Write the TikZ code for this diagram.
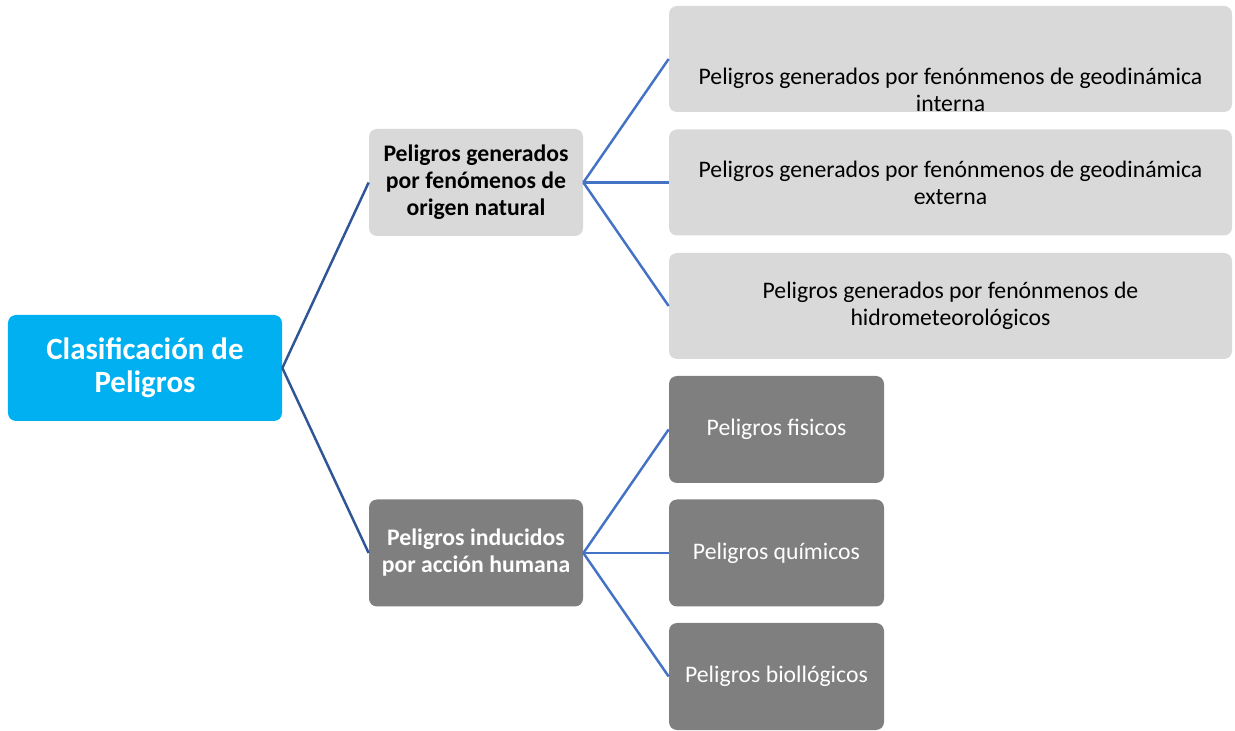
\documentclass[tikz,border=0pt]{standalone}
\usepackage{fontspec}
\setmainfont{Carlito}
\definecolor{rootcyan}{HTML}{00B0F0}
\definecolor{lightbox}{HTML}{D9D9D9}
\definecolor{darkbox}{HTML}{7F7F7F}
\definecolor{linkblue}{HTML}{4472C4}
\definecolor{rootlink}{HTML}{2F5597}
\begin{document}
\begin{tikzpicture}[
    box/.style={rectangle,rounded corners=0.16cm,align=center,inner sep=0pt},
    rootbox/.style={box,fill=rootcyan,text=white,font=\fontsize{17.6}{19}\selectfont\bfseries,
      minimum width=5.48cm,minimum height=2.12cm},
    midlight/.style={box,fill=lightbox,text=black,font=\fontsize{13.5}{15.4}\selectfont\bfseries,
      minimum width=4.28cm,minimum height=2.14cm},
    middark/.style={box,fill=darkbox,text=white,font=\fontsize{13.5}{15.4}\selectfont\bfseries,
      minimum width=4.28cm,minimum height=2.14cm},
    leafwide/.style={box,fill=lightbox,text=black,font=\fontsize{13.5}{15.4}\selectfont,
      minimum width=11.26cm,minimum height=2.12cm},
    leafdark/.style={box,fill=darkbox,text=white,font=\fontsize{13.5}{15.4}\selectfont,
      minimum width=4.3cm,minimum height=2.14cm},
    link/.style={linkblue,line width=1.4pt}
  ]
  \useasboundingbox (0,0) rectangle (24.7,14.6);

  \node[rootbox] (root) at (2.9,7.24) {Clasificación de\\Peligros};

  \node[midlight] (natural) at (9.52,10.95) {Peligros generados\\por fenómenos de\\origen natural};
  \node[middark] (humana) at (9.52,3.54) {Peligros inducidos\\por acción humana};
  \foreach \to in {natural,humana}
    \draw[link,rootlink] (root.east) -- (\to.west);

  \node[leafwide] (interna) at (19.01,13.42) {};
  \node[font=\fontsize{13.5}{15.4}\selectfont,align=center] (internatxt) at ([yshift=-0.61cm]interna.center)
    {Peligros generados por fenónmenos de geodinámica\\interna};
  \node[leafwide] (externa) at (19.01,10.95) {Peligros generados por fenónmenos de geodinámica\\externa};
  \node[leafwide] (hidro) at (19.01,8.48) {Peligros generados por fenónmenos de\\hidrometeorológicos};
  \foreach \to in {interna,externa,hidro}
    \draw[link] (natural.east) -- (\to.west);

  \node[leafdark] (fisicos) at (15.53,6.01) {Peligros fisicos};
  \node[leafdark] (quimicos) at (15.53,3.54) {Peligros químicos};
  \node[leafdark] (biologicos) at (15.53,1.07) {Peligros biollógicos};
  \foreach \to in {fisicos,quimicos,biologicos}
    \draw[link] (humana.east) -- (\to.west);

\end{tikzpicture}
\end{document}
